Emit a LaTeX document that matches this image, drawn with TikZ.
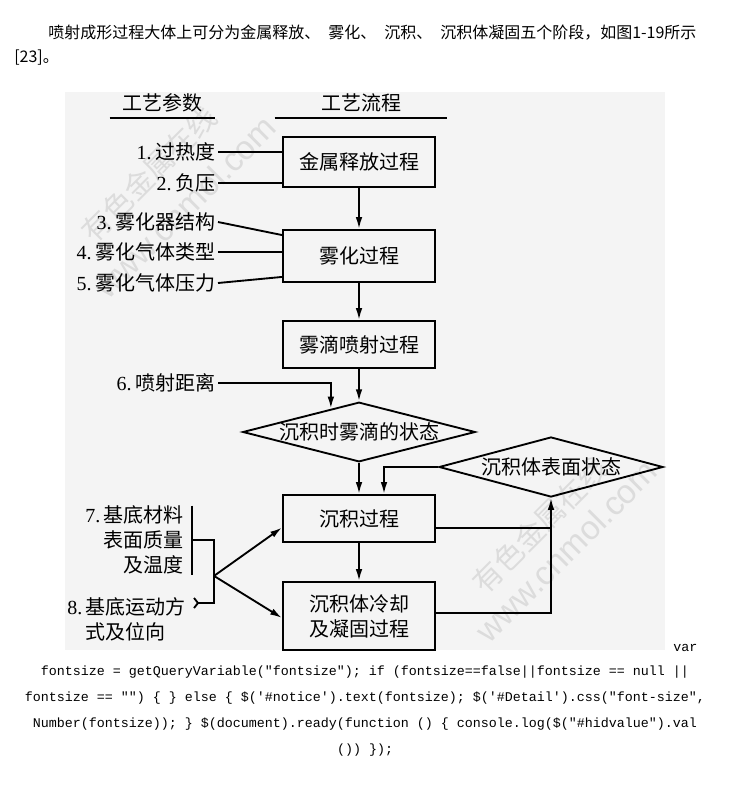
\documentclass[tikz,border=0pt]{standalone}
\usepackage{fontspec}
\setmainfont{Liberation Serif}
\newfontfamily\cjk{Noto Sans CJK SC}
\newfontfamily\jsmono{Liberation Mono}
\newfontfamily\wmsans{Liberation Sans}
\usetikzlibrary{shapes.geometric,arrows.meta,calc}
\newcommand\zhs[1]{{\cjk #1}}
\newcommand\figfont{\fontsize{15}{18.75}\selectfont}
\definecolor{figbg}{RGB}{244,244,244}
\definecolor{wmark}{RGB}{220,220,220}
\begin{document}
\begin{tikzpicture}[x=0.75pt,y=-0.75pt,
  ln/.style={line width=1.4pt},
  arr/.style={line width=1.4pt,-{Latex[length=9pt,width=5pt]}},
  box/.style={draw,line width=1.4pt,minimum width=114pt,inner sep=0pt,align=center,font=\figfont\cjk},
  dia/.style={draw,diamond,line width=1.4pt,inner sep=0pt,font=\figfont\cjk},
  lab/.style={font=\figfont,inner sep=2pt,anchor=east},
  hdr/.style={font=\figfont\cjk,anchor=south,inner xsep=0pt,inner ysep=4pt},
  wm/.style={text=wmark,rotate=45,inner sep=0pt},
  js/.style={font=\fontsize{10}{12}\selectfont\jsmono,inner sep=0pt},
  toptext/.style={font=\fontsize{12}{15}\selectfont\cjk,inner sep=0pt,anchor=west},
]
\useasboundingbox (0,0) rectangle (730,799);
\fill[white] (0,0) rectangle (730,799);
\fill[figbg] (65,92) rectangle (665,650);

% page text
\node[toptext] (t1) at (48,33) {喷射成形过程大体上可分为金属释放、\hspace{6pt}雾化、\hspace{6pt}沉积、\hspace{6pt}沉积体凝固五个阶段，如图1-19所示};
\node[toptext] (t2) at (14,58) {[23]。};

% watermarks
\node[wm,font=\fontsize{22}{22}\selectfont\cjk] (w1) at (149,174) {有色金属在线};
\node[wm,font=\fontsize{25}{25}\selectfont\wmsans] (w2) at (185,207) {www.cnmol.com};
\node[wm,font=\fontsize{22}{22}\selectfont\cjk] (w3) at (540,525) {有色金属在线};
\node[wm,font=\fontsize{25}{25}\selectfont\wmsans] (w4) at (566,551) {www.cnmol.com};

% headers
\node[hdr,minimum width=78.75pt] (h1) at (162.5,118) {工艺参数};
\draw[ln] (h1.south west) -- (h1.south east);
\node[hdr,minimum width=129pt] (h2) at (361,118) {工艺流程};
\draw[ln] (h2.south west) -- (h2.south east);

% process boxes
\node[box,minimum height=37.5pt] (b1) at (359,162) {金属释放过程};
\node[box,minimum height=39pt] (b2) at (359,256) {雾化过程};
\node[box,minimum height=35.25pt] (b3) at (359,344.5) {雾滴喷射过程};
\node[dia,minimum width=169.5pt,minimum height=43.5pt,shape aspect=3.9] (d1) at (359,432) {沉积时雾滴的状态};
\node[dia,minimum width=168pt,minimum height=45pt,shape aspect=3.73] (d2) at (551,467) {沉积体表面状态};
\node[box,minimum height=35.25pt] (b4) at (359,518.5) {沉积过程};
\node[box,minimum height=51pt] (b5) at (359,616) {沉积体冷却\\及凝固过程};

% parameters
\node[lab] (p1) at (218,152) {1.\,\zhs{过热度}};
\node[lab] (p2) at (218,183) {2.\,\zhs{负压}};
\node[lab] (p3) at (218,222) {3.\,\zhs{雾化器结构}};
\node[lab] (p4) at (218,252) {4.\,\zhs{雾化气体类型}};
\node[lab] (p5) at (218,283) {5.\,\zhs{雾化气体压力}};
\node[lab] (p6) at (218,383) {6.\,\zhs{喷射距离}};
\node[font=\figfont,align=right,anchor=east,inner xsep=6pt,inner ysep=0pt] (p7) at (192,540) {7.\,\zhs{基底材料}\\\zhs{表面质量}\\\zhs{及温度}};
\node[font=\figfont,align=left,anchor=north west,inner sep=0pt] (p8) at (67,597) {8.\,\zhs{基底运动方}\\\hphantom{8.\,}\zhs{式及位向}};

% connectors
\draw[ln] (p1.east) -- (p1.east -| b1.west);
\draw[ln] (p2.east) -- (p2.east -| b1.west);
\draw[ln] (p3.east) -- ($(b2.north west)+(0,6)$);
\draw[ln] (p4.east) -- (p4.east -| b2.west);
\draw[ln] (p5.east) -- ($(b2.south west)+(0,-6)$);
\draw[arr] (b1.south) -- (b2.north);
\draw[arr] (b2.south) -- (b3.north);
\draw[arr] (b3.south) -- (d1.north);
\draw[arr] (p6.east) -| ($(d1.north)!0.24!(d1.west)$);
\draw[arr] (d1.south) -- (b4.north);
\draw[arr] (d2.west) -| ($(b4.north)+(25,0)$);
\draw[arr] (b4.south) -- (b5.north);
\coordinate (j1) at ($(b4.east)+(0,9.5)$);
\coordinate (j2) at (j1 -| d2.south);
\draw[ln] (j1) -- (j2);
\draw[ln] ($(b5.east)+(0,-3)$) -| (j2);
\draw[arr] (j2) -- (d2.south);

% substrate bracket
\draw[ln] (p7.north east) -- (p7.south east);
\coordinate (bt) at ($(p7.east)+(22,0)$);
\coordinate (bb) at ($(bt)+(0,63)$);
\coordinate (chev) at ($(bb)+(-16,0)$);
\draw[ln] (p7.east) -- (bt) -- (bb) -- (chev);
\draw[ln] ($(chev)+(-4,-5)$) -- (chev) -- ($(chev)+(-4,5)$);
\coordinate (jn) at ($(bt)!0.57!(bb)$);
\draw[arr] (jn) -- ($(b4.west)+(0,9)$);
\draw[arr] (jn) -- ($(b5.west)+(0,2)$);

% trailing page text
\node[js,anchor=west] (v0) at (673,648) {var};
\node[js] (v1) at (365,672) {fontsize = getQueryVariable("fontsize"); if (fontsize==false||fontsize == null ||};
\node[js] (v2) at (365,698) {fontsize == "") \{ \} else \{ \$(\textquotesingle\#notice\textquotesingle).text(fontsize); \$(\textquotesingle\#Detail\textquotesingle).css("font-size",};
\node[js] (v3) at (365,724) {Number(fontsize)); \} \$(document).ready(function () \{ console.log(\$("\#hidvalue").val};
\node[js] (v4) at (365,750) {()) \});};
\end{tikzpicture}
\end{document}
